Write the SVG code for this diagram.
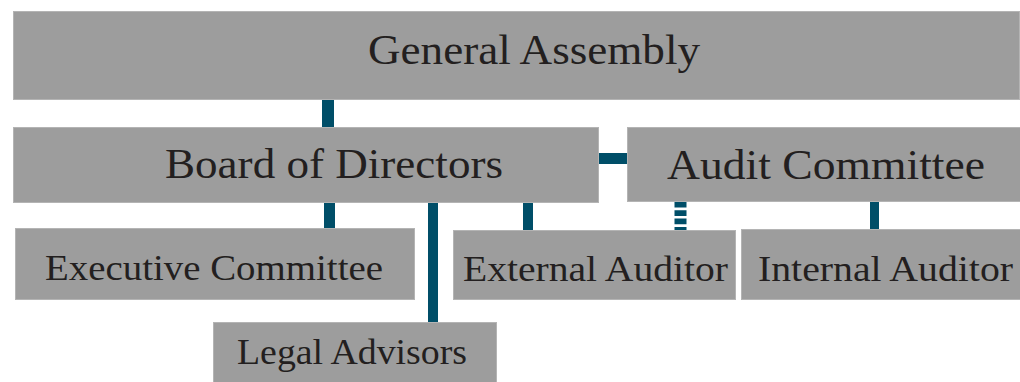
<svg xmlns="http://www.w3.org/2000/svg" width="1020" height="382" viewBox="0 0 1020 382">
  <style>
    .box { fill: #9d9d9d; stroke: #b4b4b4; stroke-width: 1; }
    .lbl { font-family: "Liberation Serif", "Times New Roman", serif; fill: #231f20; }
    .big { font-size: 42px; }
    .small { font-size: 36px; }
    .link { fill: #004e68; }
    .dashed { stroke: #004e68; stroke-width: 12; stroke-dasharray: 5.6 2.7; fill: none; }
  </style>
  <rect width="1020" height="382" fill="#ffffff"/>

  <!-- connectors -->
  <g id="connectors">
    <rect class="link" x="322" y="100" width="12" height="27"/>
    <rect class="link" x="599" y="153" width="28" height="11"/>
    <rect class="link" x="324" y="203" width="11" height="25"/>
    <rect class="link" x="428" y="203" width="10" height="119"/>
    <rect class="link" x="523" y="203" width="10" height="27"/>
    <line class="dashed" x1="680.5" y1="202" x2="680.5" y2="230"/>
    <rect class="link" x="870" y="202" width="9" height="27"/>
  </g>

  <g id="general-assembly">
    <rect class="box" x="13.5" y="11.5" width="1006" height="88"/>
    <text class="lbl big" x="368" y="64" textLength="332" lengthAdjust="spacingAndGlyphs">General Assembly</text>
  </g>

  <g id="board-of-directors">
    <rect class="box" x="13.5" y="127.5" width="585" height="75"/>
    <text class="lbl big" x="165" y="178" textLength="338" lengthAdjust="spacingAndGlyphs">Board of Directors</text>
  </g>

  <g id="audit-committee">
    <rect class="box" x="627.5" y="127.5" width="393" height="74"/>
    <text class="lbl big" x="667" y="179" textLength="318" lengthAdjust="spacingAndGlyphs">Audit Committee</text>
  </g>

  <g id="executive-committee">
    <rect class="box" x="15.5" y="228.5" width="399" height="71"/>
    <text class="lbl small" x="45" y="280" textLength="338" lengthAdjust="spacingAndGlyphs">Executive Committee</text>
  </g>

  <g id="external-auditor">
    <rect class="box" x="453.5" y="230.5" width="282" height="69"/>
    <text class="lbl small" x="463" y="281" textLength="265" lengthAdjust="spacingAndGlyphs">External Auditor</text>
  </g>

  <g id="internal-auditor">
    <rect class="box" x="741.5" y="229.5" width="279" height="70"/>
    <text class="lbl small" x="758" y="281" textLength="255" lengthAdjust="spacingAndGlyphs">Internal Auditor</text>
  </g>

  <g id="legal-advisors">
    <rect class="box" x="213.5" y="322.5" width="283" height="61"/>
    <text class="lbl small" x="237" y="364" textLength="230" lengthAdjust="spacingAndGlyphs">Legal Advisors</text>
  </g>
</svg>
